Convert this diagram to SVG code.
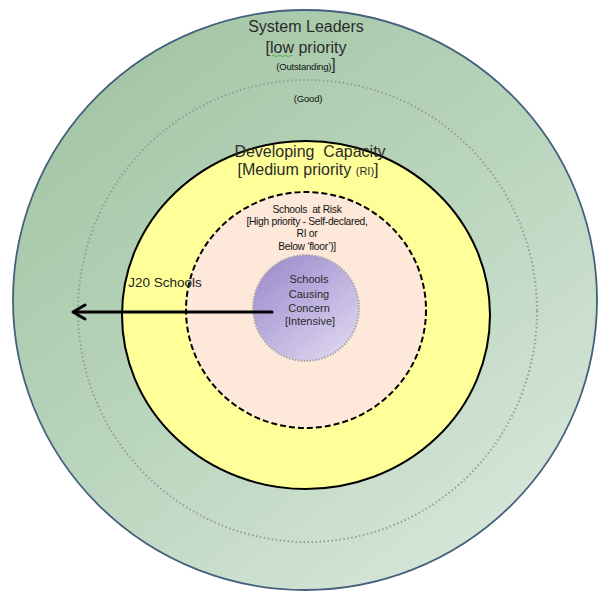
<svg xmlns="http://www.w3.org/2000/svg" width="600" height="598" viewBox="0 0 600 598">
<defs>
<linearGradient id="gOuter" x1="0.2" y1="0.1" x2="0.85" y2="0.95">
<stop offset="0" stop-color="#a5c7a7"/>
<stop offset="0.5" stop-color="#bbd6be"/>
<stop offset="1" stop-color="#d8e7db"/>
</linearGradient>
<linearGradient id="gPurple" x1="0.15" y1="0.1" x2="0.85" y2="0.95">
<stop offset="0" stop-color="#a190cf"/>
<stop offset="1" stop-color="#dcd5f0"/>
</linearGradient>
</defs>
<style>
text{font-family:"Liberation Sans",Arial,sans-serif;text-anchor:middle}
.big{font-size:16px;fill:#2b2b2b}
.sm{font-size:9.5px;fill:#111;letter-spacing:-0.2px}
.risk{font-size:10.3px;fill:#111;letter-spacing:-0.3px}
.scc{font-size:11px;fill:#2b2b2b}
.dotring{fill:none;stroke:#9a9a9a;stroke-width:2;stroke-dasharray:1.5 2.5}
.arrow{fill:none;stroke:#000;stroke-width:3;stroke-linecap:round;stroke-linejoin:round}
</style>
<rect width="600" height="598" fill="#ffffff"/>
<g id="system-leaders">
<ellipse cx="305" cy="300" rx="292" ry="290" fill="url(#gOuter)" stroke="#45607c" stroke-width="1.8"/>
<text class="big" x="306" y="32">System Leaders</text>
<text class="big" x="306" y="53">[low priority</text>
<path d="M272 56 q1.5 -1.5 3 0 t3 0 t3 0 t3 0 t3 0 t3 0 t3 0" fill="none" stroke="#3aa83a" stroke-width="0.8"/>
<text x="306" y="70"><tspan class="sm">(Outstanding)</tspan><tspan class="big">]</tspan></text>
</g>
<g id="good">
<ellipse class="dotring" cx="307.5" cy="311" rx="229.5" ry="231"/>
<text class="sm" x="308" y="102">(Good)</text>
</g>
<g id="developing-capacity">
<ellipse cx="306" cy="315" rx="184" ry="174" fill="#ffff99" stroke="#000" stroke-width="2"/>
<text class="big" x="310" y="157" xml:space="preserve">Developing  Capacity</text>
<text class="big" x="308" y="175">[Medium priority <tspan font-size="11px">(RI)</tspan>]</text>
</g>
<g id="schools-at-risk">
<ellipse cx="306" cy="310" rx="120" ry="118" fill="#fde8d9" stroke="#000" stroke-width="2" stroke-dasharray="6 3"/>
<text class="risk" x="307" y="213" xml:space="preserve">Schools  at Risk</text>
<text class="risk" x="307" y="225">[High priority - Self-declared,</text>
<text class="risk" x="307" y="237">RI or</text>
<text class="risk" x="307" y="250">Below ‘floor’)]</text>
</g>
<g id="schools-causing-concern">
<circle cx="306" cy="308" r="53" fill="url(#gPurple)" stroke="#a8a8a8" stroke-width="2" stroke-dasharray="1.5 1.5"/>
<text class="scc" x="309" y="283">Schools</text>
<text class="scc" x="309" y="298">Causing</text>
<text class="scc" x="309" y="312">Concern</text>
<text class="scc" x="310" y="325">[Intensive]</text>
</g>
<g id="connectors">
<line class="arrow" x1="272" y1="312" x2="74" y2="312"/>
<path class="arrow" d="M85 305 L73 312 L85 319"/>
<text x="165" y="287" style="font-size:13.5px;fill:#222">J20 Schools</text>
</g>
</svg>
